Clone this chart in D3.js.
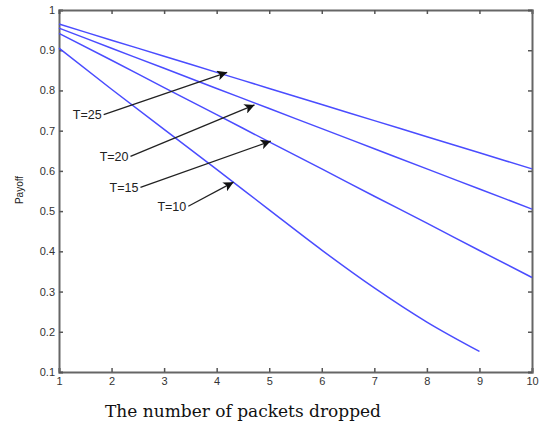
<!DOCTYPE html>
<html lang="en">
    <head>
        <meta charset="utf-8">
        <title>Payoff vs packets dropped</title>
        <script type="text/javascript" src="https://d3js.org/d3.v7.min.js"></script>
        <style type="text/css">
            body { margin: 0; background: #fff; }
            .tick text { font-family: Arial, "Liberation Sans", sans-serif; font-size: 11px; fill: #333; }
            .ylabel { font-family: Arial, "Liberation Sans", sans-serif; font-size: 10px; fill: #222; }
            .xlabel { font-family: "DejaVu Serif", serif; font-size: 17px; fill: #111; }
            .note { font-family: Arial, "Liberation Sans", sans-serif; font-size: 12.5px; fill: #222; }
        </style>
    </head>
    <body>
        <script type="text/javascript">

            // Data
            var packets = [1, 2, 3, 4, 5, 6, 7, 8, 9, 10];
            var t25 = [0.965, 0.925, 0.885, 0.845, 0.805, 0.765, 0.725, 0.685, 0.645, 0.605];
            var t20 = [0.955, 0.905, 0.855, 0.805, 0.755, 0.705, 0.655, 0.605, 0.555, 0.505];
            var t15 = [0.942, 0.875, 0.807, 0.740, 0.672, 0.605, 0.537, 0.470, 0.402, 0.335];
            var t10 = [0.905, 0.803, 0.703, 0.604, 0.503, 0.403, 0.309, 0.224, 0.151];
            var xTicks = [1, 2, 3, 4, 5, 6, 7, 8, 9, 10];
            var yTicks = [0.1, 0.2, 0.3, 0.4, 0.5, 0.6, 0.7, 0.8, 0.9, 1];

            // Labels with arrows: [label, from x, from y, to x, to y]
            var labelText = ["T=25", "T=20", "T=15", "T=10"];
            var labelFrom = [[1.85, 0.74], [2.36, 0.636], [2.55, 0.559], [3.46, 0.512]];
            var labelTo = [[4.2, 0.845], [4.72, 0.764], [5.03, 0.674], [4.32, 0.572]];

            var w = 541, h = 426;
            var mLeft = 59, mRight = 532, mTop = 10, mBottom = 372;

            var x = d3.scaleLinear().domain([1, 10]).range([mLeft, mRight]);
            var y = d3.scaleLinear().domain([0.1, 1]).range([mBottom, mTop]);

            var svg = d3.select("body").append("svg")
                .attr("width", w)
                .attr("height", h);

            var defs = svg.append("defs");
            defs.append("marker")
                .attr("id", "head")
                .attr("viewBox", "0 0 10 10")
                .attr("refX", 10).attr("refY", 5)
                .attr("markerWidth", 12).attr("markerHeight", 10)
                .attr("markerUnits", "userSpaceOnUse")
                .attr("orient", "auto")
                .append("path")
                .attr("d", "M0,0 L10,5 L0,10 L2.5,5 Z")
                .attr("fill", "#111");

            // axes (ticks pointing inward, box all round)
            var ax = svg.append("g").attr("transform", "translate(0," + mBottom + ")")
                .call(d3.axisBottom(x).tickValues(xTicks).tickSize(-4).tickPadding(5).tickFormat(d3.format("d")));
            var ay = svg.append("g").attr("transform", "translate(" + mLeft + ",0)")
                .call(d3.axisLeft(y).tickValues(yTicks).tickSize(-4).tickPadding(4).tickFormat(function(d){ return d === 1 ? "1" : d3.format(".1f")(d); }));
            var axT = svg.append("g").attr("transform", "translate(0," + mTop + ")")
                .call(d3.axisTop(x).tickValues(xTicks).tickSize(-4).tickFormat(""));
            var ayR = svg.append("g").attr("transform", "translate(" + mRight + ",0)")
                .call(d3.axisRight(y).tickValues(yTicks).tickSize(-4).tickFormat(""));

            [ax, ay, axT, ayR].forEach(function(g){
                g.select(".domain").attr("stroke", "#666").attr("stroke-width", 2);
                g.selectAll(".tick line").attr("stroke", "#555").attr("stroke-width", 1.5);
            });

            // lines
            var line = d3.line()
                .x(function(d, i){ return x(packets[i]); })
                .y(function(d){ return y(d); })
                .curve(d3.curveMonotoneX);

            [t25, t20, t15, t10].forEach(function(s){
                svg.append("path")
                    .datum(s)
                    .attr("d", line)
                    .attr("fill", "none")
                    .attr("stroke", "#4a4cff")
                    .attr("stroke-width", 1.5);
            });

            // annotations
            labelText.forEach(function(t, i){
                var f = labelFrom[i], to = labelTo[i];
                svg.append("text")
                    .attr("class", "note")
                    .attr("x", x(f[0]) - 2)
                    .attr("y", y(f[1]))
                    .attr("dy", "0.35em")
                    .attr("text-anchor", "end")
                    .text(t);
                svg.append("line")
                    .attr("x1", x(f[0])).attr("y1", y(f[1]))
                    .attr("x2", x(to[0])).attr("y2", y(to[1]))
                    .attr("stroke", "#222")
                    .attr("stroke-width", 1.3)
                    .attr("marker-end", "url(#head)");
            });

            // axis titles
            svg.append("text")
                .attr("class", "ylabel")
                .attr("transform", "translate(23,190) rotate(-90)")
                .attr("text-anchor", "middle")
                .text("Payoff");

            svg.append("text")
                .attr("class", "xlabel")
                .attr("x", 243)
                .attr("y", 417)
                .attr("text-anchor", "middle")
                .text("The number of packets dropped");
        </script>
    </body>
</html>
